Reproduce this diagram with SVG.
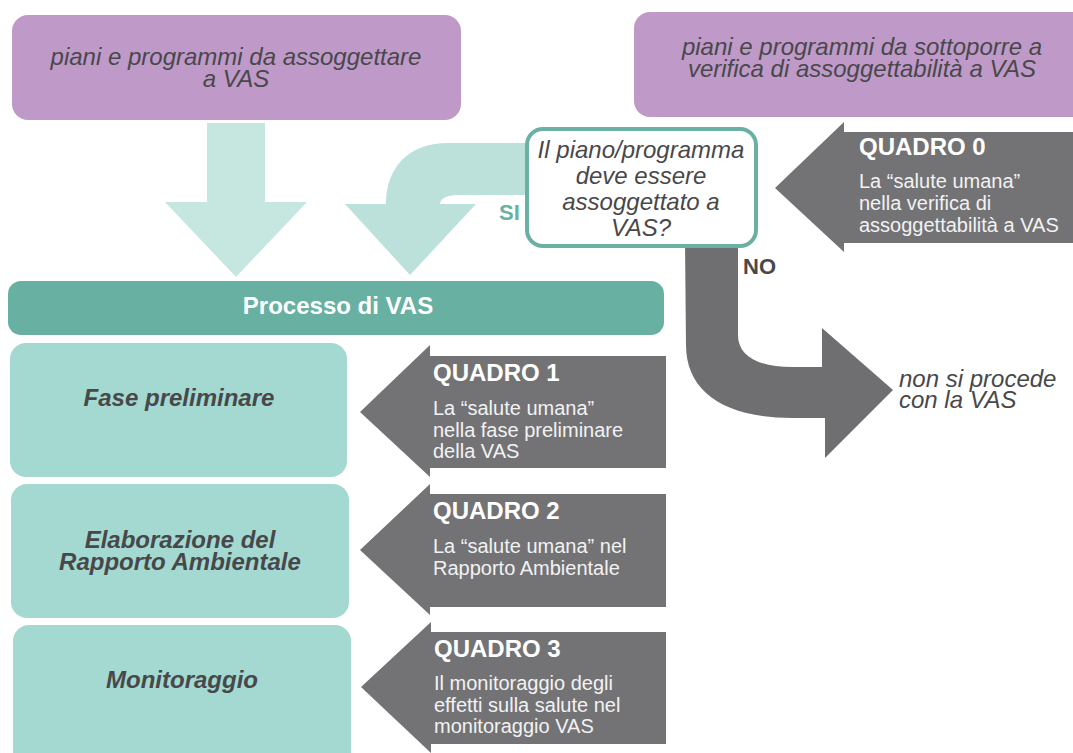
<svg xmlns="http://www.w3.org/2000/svg" width="1073" height="753" viewBox="0 0 1073 753">
  <style>
    text { font-family: "Liberation Sans", Arial, sans-serif; }
    .purple { fill: #bf9ac8; }
    .phase { fill: #a3d9d1; }
    .quad { fill: #737376; }
    .dark { fill: #48484b; }
    .it24 { font-size: 24px; font-style: italic; }
    .bi24 { font-size: 24px; font-style: italic; font-weight: bold; }
    .qh { font-size: 24px; font-weight: bold; fill: #ffffff; }
    .qb { font-size: 20px; fill: #f2f2f2; }
  </style>

  <!-- connectors: block arrows -->
  <g id="connectors">
    <!-- straight arrow into the VAS process -->
    <path d="M207 123 H265 V202 H307 L236 277 L165 202 H207 Z" fill="#c6e6e0"/>
    <!-- SI: curved arrow from the decision box -->
    <path d="M386 204 C386 168 408 143 448 143 H530 V195 H458 C446 195 440 199 440 204 Z" fill="#bce1db"/>
    <path d="M345 204 H476 L410 275 Z" fill="#bce1db"/>
    <!-- NO: curved arrow to "non si procede" -->
    <path d="M685 240 H738 V335 C738 356 758 367 792 367 H822 V328 L893 390 L825 458 V418 H792 C725 418 686 392 686 345 Z" fill="#6f6f72"/>
  </g>

  <g id="node-vas">
    <rect x="12" y="15" width="449" height="105" rx="16" class="purple"/>
    <text class="dark it24" text-anchor="middle"><tspan x="236" y="65">piani e programmi da assoggettare</tspan><tspan x="236" y="87">a VAS</tspan></text>
  </g>

  <g id="node-verifica">
    <rect x="634" y="12" width="460" height="105" rx="16" class="purple"/>
    <text class="dark it24" text-anchor="middle"><tspan x="862" y="55">piani e programmi da sottoporre a</tspan><tspan x="862" y="77">verifica di assoggettabilità a VAS</tspan></text>
  </g>

  <g id="node-decision">
    <rect x="527" y="129" width="229" height="117" rx="16" fill="#ffffff" stroke="#6ab1a3" stroke-width="4"/>
    <text class="dark it24" text-anchor="middle"><tspan x="641" y="158">Il piano/programma</tspan><tspan x="641" y="184">deve essere</tspan><tspan x="641" y="210">assoggettato a</tspan><tspan x="641" y="236">VAS?</tspan></text>
  </g>

  <g id="label-si">
    <text x="499" y="220" font-size="22" font-weight="bold" fill="#6ab1a3">SI</text>
  </g>
  <g id="label-no">
    <text x="743" y="274" font-size="22" font-weight="bold" class="dark">NO</text>
  </g>

  <g id="node-nonsi">
    <text class="dark it24"><tspan x="899" y="387">non si procede</tspan><tspan x="899" y="408">con la VAS</tspan></text>
  </g>

  <g id="node-quadro0">
    <path d="M775 188 L844 122 V132 H1073 V243 H844 V252 Z" class="quad"/>
    <text x="859" y="155" class="qh">QUADRO 0</text>
    <text class="qb"><tspan x="859" y="188">La “salute umana”</tspan><tspan x="859" y="210">nella verifica di</tspan><tspan x="859" y="232">assoggettabilità a VAS</tspan></text>
  </g>

  <g id="node-processo">
    <rect x="8" y="281" width="656" height="54" rx="13" fill="#68b0a2"/>
    <text x="338" y="314" font-size="24" font-weight="bold" fill="#ffffff" text-anchor="middle">Processo di VAS</text>
  </g>

  <g id="node-fase">
    <rect x="10" y="343" width="337" height="134" rx="16" class="phase"/>
    <text x="179" y="406" class="dark bi24" text-anchor="middle">Fase preliminare</text>
  </g>

  <g id="node-elaborazione">
    <rect x="11" y="484" width="338" height="134" rx="16" class="phase"/>
    <text class="dark bi24" text-anchor="middle"><tspan x="180" y="548">Elaborazione del</tspan><tspan x="180" y="570">Rapporto Ambientale</tspan></text>
  </g>

  <g id="node-monitoraggio">
    <rect x="13" y="625" width="338" height="150" rx="16" class="phase"/>
    <text x="182" y="688" class="dark bi24" text-anchor="middle">Monitoraggio</text>
  </g>

  <g id="node-quadro1">
    <path d="M360 412 L430 345 V356 H666 V468 H430 V477 Z" class="quad"/>
    <text x="433" y="381" class="qh">QUADRO 1</text>
    <text class="qb"><tspan x="433" y="415">La “salute umana”</tspan><tspan x="433" y="437">nella fase preliminare</tspan><tspan x="433" y="458">della VAS</tspan></text>
  </g>

  <g id="node-quadro2">
    <path d="M360 550 L430 484 V494 H666 V607 H430 V615 Z" class="quad"/>
    <text x="433" y="519" class="qh">QUADRO 2</text>
    <text class="qb"><tspan x="433" y="553">La “salute umana” nel</tspan><tspan x="433" y="575">Rapporto Ambientale</tspan></text>
  </g>

  <g id="node-quadro3">
    <path d="M361 687 L431 622 V632 H666 V744 H431 V753 Z" class="quad"/>
    <text x="434" y="657" class="qh">QUADRO 3</text>
    <text class="qb"><tspan x="434" y="690">Il monitoraggio degli</tspan><tspan x="434" y="712">effetti sulla salute nel</tspan><tspan x="434" y="733">monitoraggio VAS</tspan></text>
  </g>
</svg>
